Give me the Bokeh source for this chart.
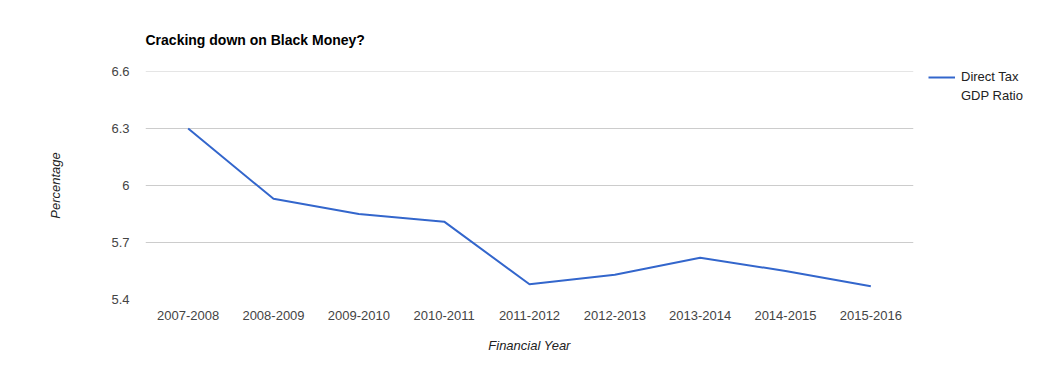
from bokeh.plotting import figure
from bokeh.models import FactorRange, Range1d, FixedTicker, CustomJSTickFormatter, Legend, LegendItem
from bokeh.embed import file_html
from bokeh.resources import INLINE

years = ["2007-2008", "2008-2009", "2009-2010", "2010-2011", "2011-2012",
         "2012-2013", "2013-2014", "2014-2015", "2015-2016"]
ratio = [6.30, 5.93, 5.85, 5.81, 5.48, 5.53, 5.62, 5.55, 5.47]
y_ticks = [5.4, 5.7, 6.0, 6.3, 6.6]
legend_lines = ["Direct Tax", "GDP Ratio"]

FONT = "Liberation Sans"

p = figure(x_range=FactorRange(*years, range_padding=0), y_range=Range1d(5.4, 6.6005),
           frame_width=768, frame_height=228, output_backend="svg", toolbar_location=None,
           min_border_left=145, min_border_right=144, min_border_top=71, min_border_bottom=72,
           title="Cracking down on Black Money?")
p.outline_line_color = None
p.background_fill_color = "white"
p.border_fill_color = "white"

p.title.text_font = FONT
p.title.text_font_size = "14px"
p.title.text_font_style = "bold"
p.title.text_color = "#000000"
p.title.align = "left"
p.title.standoff = 47

r = p.line(years, ratio, line_color="#3366cc", line_width=2)
dummy = p.line(years[:1], ratio[:1], line_alpha=0)

p.xgrid.grid_line_color = None
p.ygrid.grid_line_color = "#cccccc"
p.ygrid.grid_line_width = 1

p.yaxis.ticker = FixedTicker(ticks=y_ticks)
p.yaxis.formatter = CustomJSTickFormatter(code="return (Math.round(tick*10)/10).toString();")
for ax in (p.xaxis[0], p.yaxis[0]):
    ax.axis_line_color = None
    ax.major_tick_line_color = None
    ax.minor_tick_line_color = None
    ax.major_label_text_font = FONT
    ax.major_label_text_font_size = "13px"
    ax.major_label_text_color = "#444444"
    ax.axis_label_text_font = FONT
    ax.axis_label_text_font_size = "13px"
    ax.axis_label_text_font_style = "italic"
    ax.axis_label_text_color = "#222222"

p.yaxis.axis_label = "Percentage"
p.yaxis.major_label_standoff = 10
p.yaxis.axis_label_standoff = 45
p.xaxis.axis_label = "Financial Year"
p.xaxis.major_label_standoff = 5
p.xaxis.axis_label_standoff = 15

legend = Legend(items=[LegendItem(label=legend_lines[0], renderers=[r]),
                       LegendItem(label=legend_lines[1], renderers=[dummy])],
                location=(15, 196), padding=0, margin=0, spacing=4, border_line_color=None,
                background_fill_alpha=0, glyph_width=27, glyph_height=14, label_height=14,
                label_standoff=6,
                label_text_font=FONT, label_text_font_size="13px", label_text_color="#222222")
p.add_layout(legend, "right")

open("out.html", "w").write(file_html(p, INLINE))
